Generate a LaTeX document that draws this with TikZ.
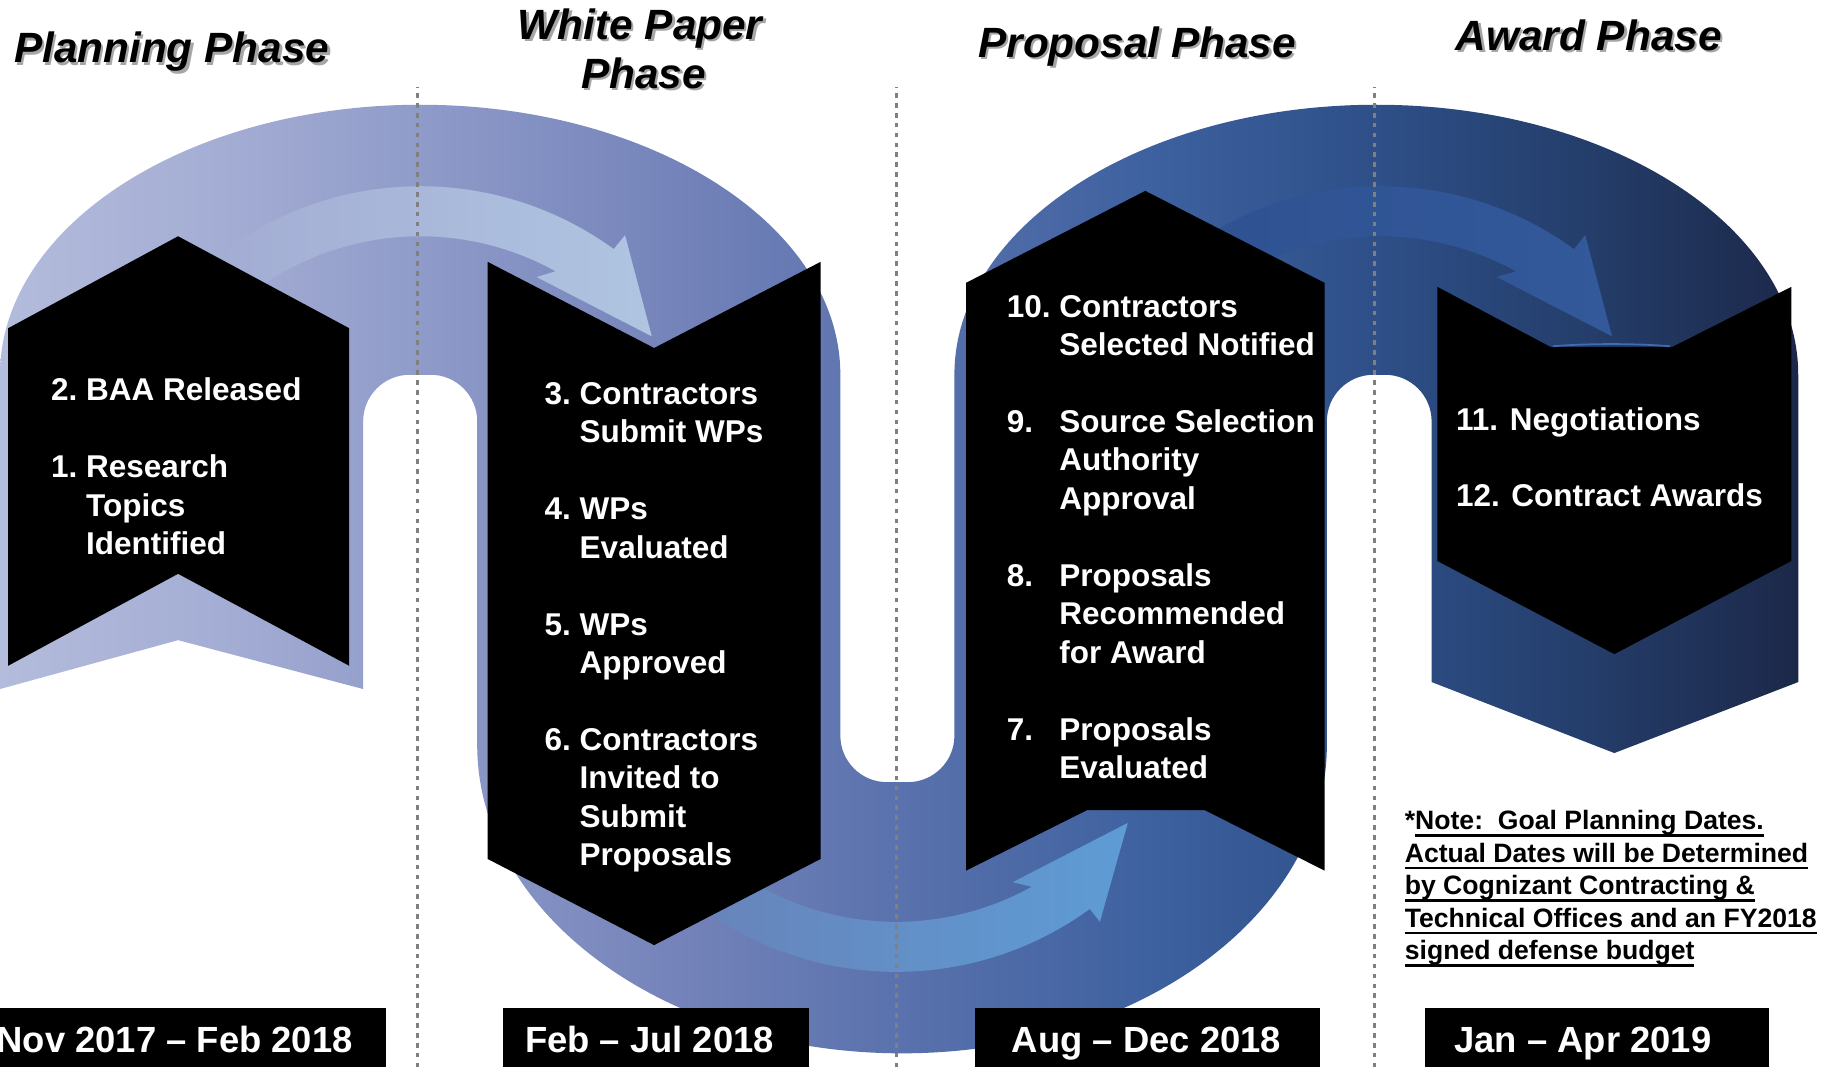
\documentclass[tikz,border=0pt]{standalone}
\usepackage{fontspec}
\setmainfont{Liberation Sans}
\usetikzlibrary{calc}

\definecolor{bandA}{HTML}{B4BCDC}
\definecolor{bandB}{HTML}{A3ACD3}
\definecolor{bandC}{HTML}{8F9BC9}
\definecolor{bandD}{HTML}{7382B9}
\definecolor{bandE}{HTML}{5A72AD}
\definecolor{bandF}{HTML}{3C609E}
\definecolor{bandG}{HTML}{2E4F88}
\definecolor{bandH}{HTML}{253F6D}
\definecolor{bandI}{HTML}{1C2849}
\definecolor{arrowAl}{HTML}{A3ACD3}
\definecolor{arrowAr}{HTML}{AFC5E1}
\definecolor{arrowBl}{HTML}{2E5190}
\definecolor{arrowBr}{HTML}{33599B}
\definecolor{arrowCl}{HTML}{6783B9}
\definecolor{arrowCr}{HTML}{5E9CD5}
\definecolor{notchblue}{HTML}{3F6DB5}

\pgfdeclarehorizontalshading{bandshade}{100bp}{color(0bp)=(bandA); color(25bp)=(bandA); color(31.5bp)=(bandB); color(36.6bp)=(bandC); color(44.1bp)=(bandD); color(49.9bp)=(bandE); color(57.4bp)=(bandF); color(63.2bp)=(bandG); color(68.7bp)=(bandH); color(75bp)=(bandI); color(100bp)=(bandI)}

\newcommand{\noteline}[1]{\setbox0\hbox{#1}\rlap{\rule[-3.3pt]{\wd0}{1.1pt}}\box0}

\begin{document}
\begin{tikzpicture}[x=0.2mm, y=0.2mm]
        \tikzstyle{every node}=[inner sep=0pt, outer sep=0pt]
        \tikzstyle{stepbox}=[fill=black]
        \tikzstyle{datebox}=[fill=black]
        \tikzstyle{steptext}=[text=white, anchor=base west, font=\fontsize{15.4}{18.8}\selectfont\bfseries]
        \tikzstyle{datetext}=[text=white, anchor=base, font=\fontsize{17.8}{21}\selectfont\bfseries]
        \tikzstyle{phasetitle}=[anchor=base, font=\fontsize{20.7}{25.6}\selectfont\bfseries\itshape]
        \tikzstyle{titleshadow}=[phasetitle, text=black!35]
        \tikzstyle{notetext}=[anchor=base west, font=\fontsize{13}{15.9}\selectfont\bfseries]
        \tikzstyle{phaseline}=[draw=black!50, line width=0.5mm, dash pattern=on 0.8mm off 0.9mm]
        \tikzstyle{notchedge}=[draw=notchblue, line width=0.3mm]

        \useasboundingbox (0,0) rectangle (1568,917);

% The band: planning arch, dip under the proposal phase, award arch.
        \shade[shading=bandshade] (0,325) -- (0,595)
                arc[start angle=180, end angle=0, x radius=361, y radius=232]
                -- (722,285) arc[start angle=180, end angle=270, radius=40]
                -- (780,245) arc[start angle=270, end angle=360, radius=40]
                -- (820,595) arc[start angle=180, end angle=0, x radius=362.5, y radius=232]
                -- (1545,331) -- (1387,270) -- (1230,331)
                -- (1230,555) arc[start angle=0, end angle=90, radius=40]
                -- (1180,595) arc[start angle=90, end angle=180, radius=40]
                -- (1140,277) arc[start angle=0, end angle=-180, x radius=365, y radius=265]
                -- (410,555) arc[start angle=0, end angle=90, radius=40]
                -- (352,595) arc[start angle=90, end angle=180, radius=40]
                -- (312,325) -- (153,367) -- cycle;

        \coordinate (arcA) at (361,474);
        \coordinate (arcB) at (1186,474);
        \coordinate (arcC) at (770,365);

        \shade[left color=arrowAl, right color=arrowAr] ($(arcA)+(130:283)$) arc[start angle=130, end angle=54, radius=283]
                -- (537,715) -- (560,628) -- (461,679)
                -- ($(arcA)+(61:240)$) arc[start angle=61, end angle=130, radius=240] -- cycle;
        \shade[left color=arrowBl, right color=arrowBr] ($(arcB)+(130:283)$) arc[start angle=130, end angle=54, radius=283]
                -- (1362,715) -- (1385,628) -- (1286,679)
                -- ($(arcB)+(61:240)$) arc[start angle=61, end angle=130, radius=240] -- cycle;
        \shade[left color=arrowCl, right color=arrowCr] ($(arcC)+(-130:283)$) arc[start angle=-130, end angle=-54, radius=283]
                -- (945,125) -- (969,210) -- (870,159)
                -- ($(arcC)+(-61:240)$) arc[start angle=-61, end angle=-130, radius=240] -- cycle;

        \foreach \x in {359,770,1181}
                \draw[phaseline] (\x,0) -- (\x,842);

% black step banners
        \fill[stepbox] (7,635) -- (153,714) -- (300,635) -- (300,345) -- (153,424) -- (7,345) -- cycle;
        \fill[stepbox] (419,692) -- (562,618) -- (705,692) -- (705,179) -- (562,105) -- (419,179) -- cycle;
        \fill[stepbox] (830,674) -- (984,753) -- (1138,674) -- (1138,169) -- (1035,221) -- (934,221) -- (830,169) -- cycle;
        \fill[stepbox] (1235,670.5) -- (1332,619) -- (1437,619) -- (1539,670.5) -- (1539,435) -- (1387,355) -- (1235,435) -- cycle;
        \draw[notchedge] (1334,619.5) .. controls (1365,622) and (1404,622) .. (1435,619.5);

        \node[steptext] (plansteps) at (44,572.5) {\begin{tabular}[t]{@{}l@{\ }l@{}}
                2. & BAA Released\\ \\
                1. & Research\\ & Topics\\ & Identified\end{tabular}};
        \node[steptext] (papersteps) at (468,569.5) {\begin{tabular}[t]{@{}l@{\ }l@{}}
                3. & Contractors\\ & Submit WPs\\ \\
                4. & WPs\\ & Evaluated\\ \\
                5. & WPs\\ & Approved\\ \\
                6. & Contractors\\ & Invited to\\ & Submit\\ & Proposals\end{tabular}};
        \node[steptext] (propsteps) at (865,644.5) {\begin{tabular}[t]{@{}l@{\ }l@{}}
                10. & Contractors\\ & Selected Notified\\ \\
                9. & Source Selection\\ & Authority\\ & Approval\\ \\
                8. & Proposals\\ & Recommended\\ & for Award\\ \\
                7. & Proposals\\ & Evaluated\end{tabular}};
        \node[steptext] (awardsteps) at (1251,547.5) {\begin{tabular}[t]{@{}l@{}}
                11. Negotiations\\ \\
                12. Contract Awards\end{tabular}};

% date bars along the bottom
        \fill[datebox] (0,0) rectangle (332,51);
        \fill[datebox] (432,0) rectangle (695,51);
        \fill[datebox] (838,0) rectangle (1134,51);
        \fill[datebox] (1224,0) rectangle (1520,51);
        \node[datetext] (plandate) at (150,13) {Nov 2017 -- Feb 2018};
        \node[datetext] (paperdate) at (558,13) {Feb -- Jul 2018};
        \node[datetext] (propdate) at (985,13) {Aug -- Dec 2018};
        \node[datetext] (awarddate) at (1360,13) {Jan -- Apr 2019};

        \node[titleshadow] (plantitleshadow) at (149.5,861) {Planning Phase};
        \node[phasetitle] (plantitle) at (147.5,863) {Planning Phase};
        \node[titleshadow] (papertitleshadow) at (552,881) {White Paper};
        \node[phasetitle] (papertitle) at (550,883) {White Paper};
        \node[titleshadow] (papertitleshadowb) at (555,839) {Phase};
        \node[phasetitle] (papertitleb) at (553,841) {Phase};
        \node[titleshadow] (proptitleshadow) at (979,866) {Proposal Phase};
        \node[phasetitle] (proptitle) at (977,868) {Proposal Phase};
        \node[titleshadow] (awardtitleshadow) at (1367,872) {Award Phase};
        \node[phasetitle] (awardtitle) at (1365,874) {Award Phase};

        \node[notetext] (note) at (1207,204) {\begin{tabular}[t]{@{}l@{}}
                *\noteline{Note:\ \ Goal Planning Dates.}\\
                \noteline{Actual Dates will be Determined}\\
                \noteline{by Cognizant Contracting \&}\\
                \noteline{Technical Offices and an FY2018}\\
                \noteline{signed defense budget}\end{tabular}};

\end{tikzpicture}
\end{document}
